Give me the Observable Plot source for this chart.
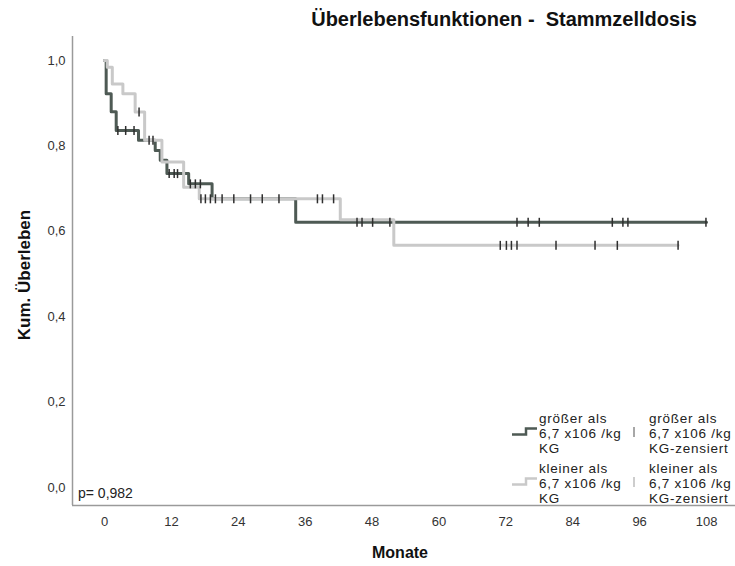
<!DOCTYPE html>
<html>
<head>
<meta charset="utf-8">
<script src="https://cdn.jsdelivr.net/npm/d3@7"></script>
<script src="https://cdn.jsdelivr.net/npm/@observablehq/plot@0.6"></script>
<style>
  body { margin: 0; background: #fff; }
  #chart svg { display: block; }
</style>
</head>
<body>
<div id="chart"></div>
<script>
// Kaplan-Meier survival by stem-cell dose group.
// Step times (months) and the survival value reached at each step.
const highTimes = [0, 0.3, 1.2, 2.1, 6.1, 9.1, 10.0, 11.2, 15.1, 19.3, 34.3];
const highSurv  = [1.0, 0.922, 0.880, 0.836, 0.813, 0.789, 0.766, 0.735, 0.711, 0.676, 0.621];
const highEnd = 108;
const highCensored = [2.4, 3.8, 5.3, 8.0, 8.7, 11.6, 12.5, 13.1, 15.4, 16.3, 17.2,
                      45.3, 46.2, 48.1, 51.2, 74.0, 76.0, 78.0, 91.1, 93.0, 93.9, 107.9];

const lowTimes = [0, 0.5, 1.4, 3.3, 5.5, 7.2, 10.3, 14.2, 17.0, 42.3, 51.9];
const lowSurv  = [1.0, 0.984, 0.945, 0.922, 0.879, 0.813, 0.762, 0.703, 0.676, 0.627, 0.567];
const lowEnd = 102.9;
const lowCensored = [6.2, 17.3, 18.1, 19.0, 19.9, 21.1, 23.2, 26.2, 28.3, 31.3, 38.2, 39.1, 41.1,
                     71.0, 72.1, 73.0, 74.0, 81.0, 88.0, 92.0, 102.9];

const xTicks = [0, 12, 24, 36, 48, 60, 72, 84, 96, 108];
const yTicks = [0, 0.2, 0.4, 0.6, 0.8, 1.0];

const titleText = "Überlebensfunktionen -  Stammzelldosis";
const xLabel = "Monate";
const yLabel = "Kum. Überleben";
const pText = "p= 0,982";
const legendRows = [
  {lines: ["größer als", "6,7 x106 /kg", "KG"], censLines: ["größer als", "6,7 x106 /kg", "KG-zensiert"]},
  {lines: ["kleiner als", "6,7 x106 /kg", "KG"], censLines: ["kleiner als", "6,7 x106 /kg", "KG-zensiert"]}
];

const darkColor = "#4e5a54";
const lightColor = "#c9c9c9";
const tickColor = "#2e2e2e";
const font = "'Liberation Sans', Arial, sans-serif";

function stepRows(times, surv, end) {
  const r = times.map((t, i) => ({t, s: surv[i]}));
  r.push({t: end, s: surv[surv.length - 1]});
  return r;
}
function survAt(times, surv, t) {
  let v = surv[0];
  for (let i = 0; i < times.length; i++) if (times[i] <= t) v = surv[i];
  return v;
}
const highLine = stepRows(highTimes, highSurv, highEnd);
const lowLine = stepRows(lowTimes, lowSurv, lowEnd);
const censorMarks = [
  ...highCensored.map(t => ({t, s: survAt(highTimes, highSurv, t)})),
  ...lowCensored.map(t => ({t, s: survAt(lowTimes, lowSurv, t)}))
];

// vertical bar symbol for censored observations
const vbar = {
  draw(ctx, size) {
    const r = Math.sqrt(size / Math.PI);
    ctx.moveTo(0, -r);
    ctx.lineTo(0, r);
  }
};

const xDomain = [-5.74, 113.2];
const yDomain = [-0.042, 1.056];

const chart = Plot.plot({
  width: 735,
  height: 566,
  marginLeft: 72,
  marginRight: 0,
  marginTop: 36,
  marginBottom: 61,
  style: {fontFamily: font, background: "#fff", color: "#333"},
  x: {domain: xDomain},
  y: {domain: yDomain},
  marks: [
    Plot.axisX({ticks: xTicks, tickSize: 0, tickPadding: 11, label: null, fontSize: 13, tickFormat: d => String(d)}),
    Plot.axisY({ticks: yTicks, tickSize: 0, tickPadding: 7, label: null, fontSize: 13,
                tickFormat: d => d.toFixed(1).replace(".", ",")}),
    Plot.ruleX([xDomain[0]], {stroke: "#9a9a9a", strokeWidth: 1.5}),
    Plot.ruleY([yDomain[0]], {stroke: "#9a9a9a", strokeWidth: 1.5}),
    Plot.line(highLine, {x: "t", y: "s", curve: "step-after", stroke: darkColor, strokeWidth: 3}),
    Plot.line(lowLine, {x: "t", y: "s", curve: "step-after", stroke: lightColor, strokeWidth: 3}),
    Plot.dot(censorMarks, {x: "t", y: "s", symbol: vbar, r: 4.5, stroke: tickColor, strokeWidth: 1.5, fill: "none"})
  ]
});

const svg = d3.select(chart);

svg.append("text")
  .attr("x", 504).attr("y", 26)
  .attr("text-anchor", "middle")
  .style("font", `bold 20px ${font}`).attr("fill", "#111")
  .text(titleText);

svg.append("text")
  .attr("x", 400).attr("y", 558)
  .attr("text-anchor", "middle")
  .style("font", `bold 16px ${font}`).attr("fill", "#111")
  .text(xLabel);

svg.append("text")
  .attr("transform", "translate(30,275) rotate(-90)")
  .attr("text-anchor", "middle")
  .style("font", `bold 17px ${font}`).attr("fill", "#111")
  .text(yLabel);

svg.append("text")
  .attr("x", 78).attr("y", 498)
  .attr("text-anchor", "start")
  .style("font", `14px ${font}`).attr("fill", "#222")
  .text(pText);

// legend inside the plot area, lower right
const legend = svg.append("g")
  .attr("text-anchor", "start")
  .style("font", `13.5px ${font}`)
  .style("letter-spacing", "0.75px")
  .attr("fill", "#222");
const rowColors = [darkColor, lightColor];
const sepColors = ["#8a8a8a", "#bdbdbd"];
legendRows.forEach((row, i) => {
  const base = 423 + i * 50;
  row.lines.forEach((s, j) => legend.append("text").attr("x", 539).attr("y", base + j * 15).text(s));
  row.censLines.forEach((s, j) => legend.append("text").attr("x", 649).attr("y", base + j * 15).text(s));
  const my = base + 9;
  legend.append("path")
    .attr("d", `M512,${my + 2.5}H526V${my - 3.5}H537`)
    .attr("fill", "none").attr("stroke", rowColors[i]).attr("stroke-width", 2.5);
  legend.append("line")
    .attr("x1", 634).attr("x2", 634).attr("y1", my - 5).attr("y2", my + 5)
    .attr("stroke", sepColors[i]).attr("stroke-width", 1.5);
});

document.getElementById("chart").appendChild(chart);
</script>
</body>
</html>
